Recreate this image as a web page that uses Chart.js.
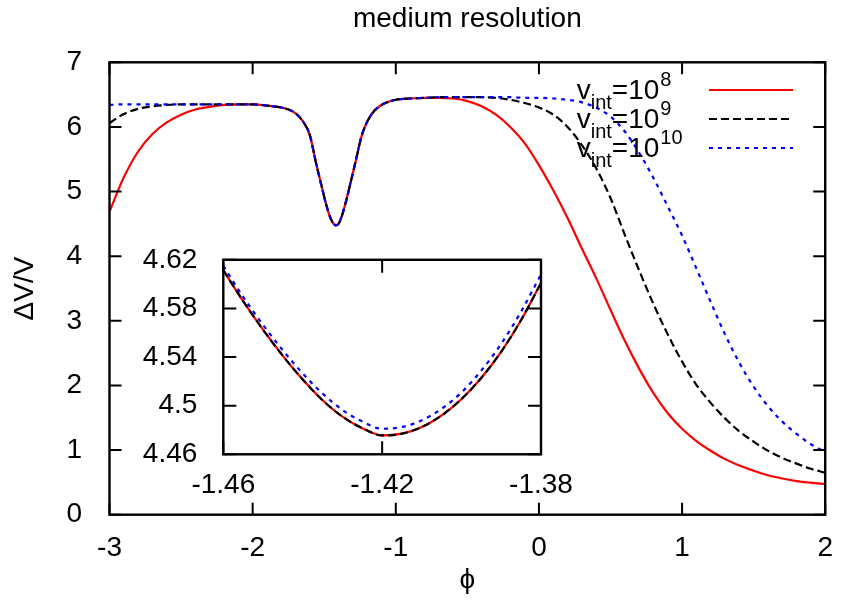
<!DOCTYPE html>
<html><head><meta charset="utf-8">
<script src="https://cdn.jsdelivr.net/npm/chart.js@4/dist/chart.umd.min.js"></script>
<style>
html,body{margin:0;padding:0;background:#fff;}
#wrap{position:relative;width:842px;height:605px;background:#fff;overflow:hidden;}
#main{position:absolute;left:0;top:0;}
#inset{position:absolute;left:140px;top:225px;}
</style></head><body>
<div id="wrap"><canvas id="main" width="842" height="605"></canvas><canvas id="inset" width="440" height="285"></canvas></div>
<script>
// ---------- data ----------
const phi = [-3,-2.9,-2.8,-2.7,-2.6,-2.5,-2.4,-2.3,-2.2,-2.1,-2.0,
  -1.9,-1.8,-1.75,-1.7,-1.65,-1.6,
  -1.56,-1.52,-1.49,-1.46,-1.44,-1.42,-1.40,-1.38,-1.35,-1.32,-1.28,-1.24,
  -1.2,-1.15,-1.1,-1.05,-1.0,
  -0.9,-0.8,-0.7,-0.6,-0.5,-0.4,-0.3,-0.2,-0.1,
  0.0,0.1,0.2,0.3,0.4,0.5,0.6,0.7,0.8,0.9,1.0,1.1,1.2,1.3,1.4,1.5,1.6,1.7,1.8,1.9,2.0];
const dv_v1e8 = [4.69,5.22,5.62,5.89,6.07,6.19,6.27,6.31,6.34,6.35,6.35,
  6.33,6.30,6.27,6.21,6.09,5.87,
  5.47,5.10,4.83,4.61,4.52,4.475,4.50,4.60,4.83,5.10,5.47,5.85,
  6.08,6.25,6.34,6.39,6.42,
  6.44,6.45,6.45,6.44,6.40,6.32,6.19,6.00,5.75,
  5.41,5.02,4.59,4.12,3.66,3.17,2.69,2.26,1.88,1.57,1.33,1.14,0.99,0.86,0.76,0.68,0.61,0.56,0.52,0.495,0.475];
const dv_v1e9 = [6.06,6.20,6.28,6.32,6.34,6.35,6.35,6.35,6.35,6.35,6.35,
  6.33,6.30,6.27,6.21,6.09,5.87,
  5.47,5.10,4.83,4.61,4.52,4.475,4.50,4.60,4.83,5.10,5.47,5.85,
  6.08,6.25,6.34,6.39,6.42,
  6.44,6.45,6.46,6.46,6.46,6.46,6.45,6.42,6.37,
  6.30,6.19,6.00,5.72,5.36,4.90,4.33,3.78,3.26,2.79,2.37,2.01,1.73,1.49,1.29,1.13,0.99,0.88,0.79,0.71,0.65];
const dv_v1e10 = [6.34,6.35,6.35,6.35,6.35,6.35,6.35,6.35,6.35,6.35,6.35,
  6.33,6.30,6.27,6.21,6.09,5.87,
  5.47,5.10,4.83,4.615,4.525,4.48,4.505,4.605,4.83,5.10,5.47,5.85,
  6.08,6.25,6.34,6.39,6.42,
  6.44,6.45,6.46,6.46,6.46,6.46,6.46,6.46,6.45,
  6.45,6.44,6.42,6.38,6.30,6.16,5.93,5.60,5.21,4.77,4.32,3.81,3.29,2.79,2.35,1.98,1.68,1.44,1.25,1.09,0.97];

const insetPhi = [-1.460,-1.455,-1.450,-1.445,-1.440,-1.435,-1.430,-1.425,-1.420,-1.415,-1.410,-1.405,-1.400,-1.395,-1.390,-1.385,-1.380];
const insetV1e8 = [4.6115,4.586,4.5625,4.541,4.5215,4.5045,4.491,4.4815,4.4755,4.477,4.4825,4.492,4.5055,4.523,4.5445,4.5705,4.601];
const insetV1e9 = [4.6115,4.586,4.5625,4.541,4.5215,4.5045,4.491,4.4815,4.4755,4.477,4.4825,4.492,4.5055,4.523,4.5445,4.5705,4.601];
const insetV1e10 = [4.615,4.5895,4.5665,4.5455,4.5265,4.510,4.4965,4.487,4.481,4.4825,4.488,4.4975,4.511,4.529,4.551,4.5775,4.608];

const xTicks = [-3,-2,-1,0,1,2];
const yTicks = [0,1,2,3,4,5,6,7];
const insetXTicks = [-1.46,-1.42,-1.38];
const insetYTicks = [4.46,4.50,4.54,4.58,4.62];
const seriesExponents = ['8','9','10'];
const chartTitle = 'medium resolution';
const xTitle = '\u03D5';
const yTitle = '\u0394V/V';

// ---------- styling ----------
const FONT = "'Liberation Sans', Arial, Helvetica, sans-serif";
const styles = [
  {color:'#ff0000', dash:[], width:2.2, order:3},
  {color:'#000000', dash:[8,4], width:2.2, order:2},
  {color:'#0000ff', dash:[4,5], width:2.2, order:1}
];
function pts(xs, ys){ return xs.map((x,i)=>({x:x, y:ys[i]})); }
function makeDatasets(xs, series){
  return series.map((ys,i)=>({
    label:'v_int=10^'+seriesExponents[i],
    data:pts(xs, ys),
    borderColor:styles[i].color,
    borderDash:styles[i].dash,
    borderWidth:styles[i].width,
    order:styles[i].order,
    pointRadius:0,
    fill:false,
    cubicInterpolationMode:'monotone'
  }));
}

const frameTicks = {
  id:'frameTicks',
  afterDatasetsDraw(chart, args, opts){
    const {ctx, chartArea:a, scales:{x,y}} = chart;
    ctx.save();
    ctx.strokeStyle='#000'; ctx.lineWidth=opts.lw; ctx.setLineDash([]);
    ctx.beginPath();
    x.ticks.forEach(t=>{ const px=x.getPixelForValue(t.value);
      ctx.moveTo(px,a.bottom); ctx.lineTo(px,a.bottom-opts.len);
      ctx.moveTo(px,a.top); ctx.lineTo(px,a.top+opts.len); });
    y.ticks.forEach(t=>{ const py=y.getPixelForValue(t.value);
      ctx.moveTo(a.left,py); ctx.lineTo(a.left+opts.len,py);
      ctx.moveTo(a.right,py); ctx.lineTo(a.right-opts.len,py); });
    ctx.stroke();
    ctx.lineWidth=opts.frame;
    ctx.strokeRect(a.left,a.top,a.right-a.left,a.bottom-a.top);
    ctx.restore();
  }
};

const vintLegend = {
  id:'vintLegend',
  afterDraw(chart, args, opts){
    if(!opts.show) return;
    const {ctx, chartArea:a} = chart;
    chart.data.datasets.forEach((ds,i)=>{
      const y = a.top + 27.7 + i*29;
      ctx.save();
      ctx.strokeStyle=ds.borderColor; ctx.lineWidth=ds.borderWidth; ctx.setLineDash(ds.borderDash||[]);
      ctx.beginPath(); ctx.moveTo(a.left+599.5,y); ctx.lineTo(a.left+683.5,y); ctx.stroke();
      ctx.setLineDash([]);
      ctx.fillStyle='#000'; ctx.textAlign='left'; ctx.textBaseline='alphabetic';
      let x = a.left+467.2; const base = y+8.5;
      ctx.font='28px '+FONT; ctx.fillText('v',x,base); x+=ctx.measureText('v').width;
      ctx.font='20px '+FONT; ctx.fillText('int',x,base+10); x+=ctx.measureText('int').width;
      ctx.font='28px '+FONT; ctx.fillText('=10',x,base); x+=ctx.measureText('=10').width+1;
      ctx.font='20px '+FONT; ctx.fillText(seriesExponents[i],x,base-13);
      ctx.restore();
    });
  }
};

function fixTicks(list){ return s=>{ s.ticks = list.map(v=>({value:v})); }; }
const tickFont = {family:FONT, size:28};

new Chart(document.getElementById('main'), {
  type:'line',
  data:{datasets:makeDatasets(phi,[dv_v1e8,dv_v1e9,dv_v1e10])},
  options:{
    responsive:false, animation:false, devicePixelRatio:1,
    layout:{padding:{left:0,right:13.7,top:0,bottom:0}},
    plugins:{
      legend:{display:false}, tooltip:{enabled:false},
      title:{display:true, text:chartTitle, fullSize:false, color:'#000',
        font:{family:FONT,size:28,weight:'normal'}, padding:{top:2,bottom:26.7}},
      frameTicks:{len:12, lw:2, frame:2.4},
      vintLegend:{show:true}
    },
    scales:{
      x:{type:'linear', min:-3, max:2,
        afterBuildTicks:fixTicks(xTicks),
        afterFit:s=>{s.height=90.3;},
        grid:{display:false}, border:{display:false},
        ticks:{color:'#000', font:tickFont, padding:9, maxRotation:0, autoSkip:false},
        title:{display:true, text:xTitle, color:'#000', font:{family:FONT,size:28}, padding:{top:0,bottom:8}}
      },
      y:{type:'linear', min:0, max:7,
        afterBuildTicks:fixTicks(yTicks),
        afterFit:s=>{s.width=109.5;},
        grid:{display:false}, border:{display:false},
        ticks:{color:'#000', font:tickFont, padding:19.5, autoSkip:false},
        title:{display:true, text:yTitle, color:'#000', font:{family:FONT,size:28}, padding:{top:8,bottom:0}}
      }
    }
  },
  plugins:[frameTicks, vintLegend]
});

new Chart(document.getElementById('inset'), {
  type:'line',
  data:{datasets:makeDatasets(insetPhi,[insetV1e8,insetV1e9,insetV1e10])},
  options:{
    responsive:false, animation:false, devicePixelRatio:1,
    layout:{padding:{left:0,right:39,top:26.7,bottom:0}},
    plugins:{
      legend:{display:false}, tooltip:{enabled:false}, title:{display:false},
      frameTicks:{len:13, lw:2, frame:2.4},
      vintLegend:{show:false}
    },
    scales:{
      x:{type:'linear', min:-1.46, max:-1.38,
        afterBuildTicks:fixTicks(insetXTicks),
        afterFit:s=>{s.height=55.7;},
        grid:{display:false}, border:{display:false},
        ticks:{color:'#000', font:tickFont, padding:6, maxRotation:0, autoSkip:false,
          callback:v=>String(+v.toFixed(2))}
      },
      y:{type:'linear', min:4.46, max:4.62,
        afterBuildTicks:fixTicks(insetYTicks),
        afterFit:s=>{s.width=83.3;},
        grid:{display:false}, border:{display:false},
        ticks:{color:'#000', font:tickFont, padding:18, autoSkip:false,
          callback:v=>String(+v.toFixed(2))}
      }
    }
  },
  plugins:[frameTicks, vintLegend]
});
</script>
</body></html>
